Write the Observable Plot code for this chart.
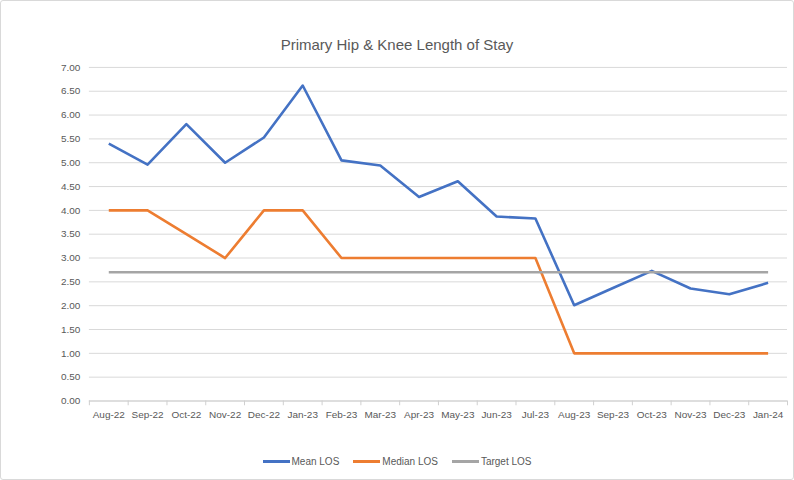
<!DOCTYPE html>
<html>
<head>
<meta charset="utf-8">
<script src="https://cdn.jsdelivr.net/npm/d3@7"></script>
<script src="https://cdn.jsdelivr.net/npm/@observablehq/plot@0.6"></script>
<style>
  html, body { margin: 0; padding: 0; background: #fff; }
  #wrap { position: relative; width: 794px; height: 480px; box-sizing: border-box; border: 1px solid #d9d9d9; border-radius: 3px; overflow: hidden; font-family: "Liberation Sans Narrow", "Liberation Sans", sans-serif; }
  #title { position: absolute; left: 0; top: 35px; width: 100%; text-align: center; font-size: 15px; color: #595959; font-family: "Liberation Sans Narrow", "Liberation Sans", sans-serif; }
  #chart { position: absolute; left: -1px; top: -1px; }
  #legend { position: absolute; left: 0; top: 455px; width: 100%; display: flex; justify-content: center; gap: 14px; font-size: 10px; color: #595959; }
  .item { display: flex; align-items: center; gap: 2px; }
  .sw { width: 27px; height: 3px; }
</style>
</head>
<body>
<div id="wrap">
  <div id="chart"></div>
  <div id="title">Primary Hip &amp; Knee Length of Stay</div>
  <div id="legend"></div>
</div>
<script>
const months = ["Aug-22","Sep-22","Oct-22","Nov-22","Dec-22","Jan-23","Feb-23","Mar-23","Apr-23","May-23","Jun-23","Jul-23","Aug-23","Sep-23","Oct-23","Nov-23","Dec-23","Jan-24"];
const meanLOS = [5.40, 4.96, 5.81, 5.00, 5.53, 6.62, 5.05, 4.94, 4.28, 4.61, 3.87, 3.83, 2.01, 2.37, 2.73, 2.36, 2.24, 2.48];
const medianLOS = [4, 4, 3.5, 3, 4, 4, 3, 3, 3, 3, 3, 3, 1, 1, 1, 1, 1, 1];
const targetLOS = [2.7, 2.7, 2.7, 2.7, 2.7, 2.7, 2.7, 2.7, 2.7, 2.7, 2.7, 2.7, 2.7, 2.7, 2.7, 2.7, 2.7, 2.7];
const seriesNames = ["Mean LOS", "Median LOS", "Target LOS"];
const seriesColors = ["#4472C4", "#ED7D31", "#A5A5A5"];
const yTicks = d3.range(0, 7.01, 0.5);

const rows = [];
[meanLOS, medianLOS, targetLOS].forEach((vals, si) => {
  vals.forEach((v, i) => rows.push({month: months[i], value: v, series: seriesNames[si]}));
});

const left = 89, right = 788;
const step = (right - left) / months.length;

const chart = Plot.plot({
  width: 794,
  height: 480,
  marginLeft: left,
  marginRight: 794 - right,
  marginTop: 67,
  marginBottom: 79,
  style: { fontFamily: '"Liberation Sans Narrow", "Liberation Sans", sans-serif', fontSize: "10px", color: "#595959", background: "transparent" },
  x: { type: "point", domain: months, padding: 0.5, round: false, label: null },
  y: { domain: [0, 7], label: null },
  color: { domain: seriesNames, range: seriesColors },
  marks: [
    Plot.gridY(yTicks, { stroke: "#d9d9d9", strokeOpacity: 1 }),
    Plot.ruleY([0], { stroke: "#d0d0d0" }),
    Plot.ruleX(months, { x: d => d, y1: 0, y2: -0.1, dx: -step / 2, stroke: "#d0d0d0" }),
    Plot.ruleX(months.slice(-1), { x: d => d, y1: 0, y2: -0.1, dx: step / 2, stroke: "#d0d0d0" }),
    Plot.axisY(yTicks, { tickSize: 0, tickPadding: 9, tickFormat: d => d.toFixed(2), fill: "#595959", fontSize: 10 }),
    Plot.axisX(months, { tickSize: 0, tickPadding: 10, fill: "#595959", fontSize: 10 }),
    Plot.line(rows, { x: "month", y: "value", z: "series", stroke: "series", strokeWidth: 2.6, strokeLinejoin: "round", strokeLinecap: "butt" })
  ]
});
document.getElementById("chart").appendChild(chart);

const legend = document.getElementById("legend");
seriesNames.forEach((n, i) => {
  const it = document.createElement("div");
  it.className = "item";
  const sw = document.createElement("div");
  sw.className = "sw";
  sw.style.background = seriesColors[i];
  const t = document.createElement("span");
  t.textContent = n;
  it.appendChild(sw); it.appendChild(t);
  legend.appendChild(it);
});
</script>
</body>
</html>
